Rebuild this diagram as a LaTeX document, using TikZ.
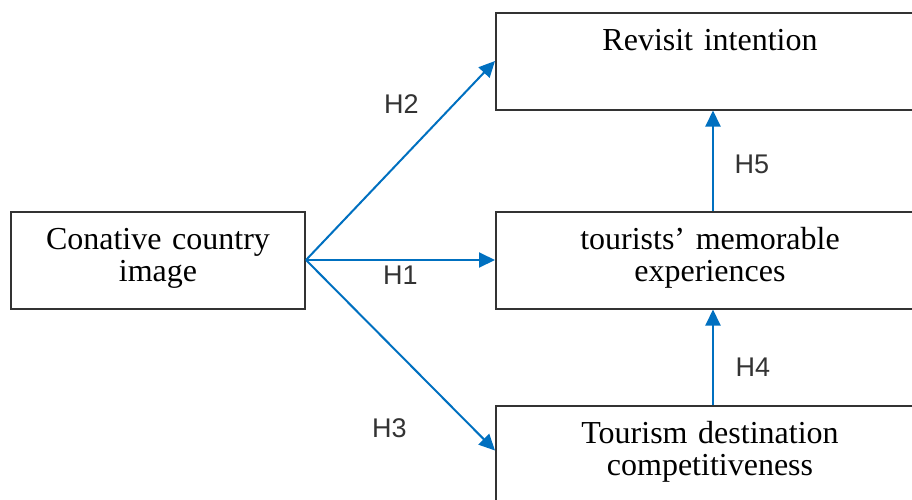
\documentclass[tikz,border=0pt]{standalone}
\usepackage{fontspec}
\setmainfont{Liberation Serif}
\newfontfamily\labelfont{Liberation Sans}
\usetikzlibrary{shapes,arrows.meta,positioning}
\definecolor{hypblue}{HTML}{0070C0}
\definecolor{boxgray}{HTML}{333333}

\begin{document}
\begin{tikzpicture}[
    box/.style={draw=boxgray, line width=1pt, rectangle, inner sep=0pt, align=center,
        text height=19pt, text depth=29.5pt, font=\fontsize{16}{16}\selectfont},
    hyp/.style={hypblue, line width=1pt, -{Triangle[length=8pt,width=7.5pt]}},
    lbl/.style={font=\labelfont\fontsize{13.5}{14}\selectfont, text=boxgray, inner sep=0pt}
  ]
       \useasboundingbox (0,0) rectangle (456pt,-249.5pt);

       %Defining nodes
       \node[box, text width=147pt] (conative) at (79pt,-130pt) {Conative country\\image};

       \node[box, text width=214pt, right=94.5pt of conative] (memorable) {tourists’ memorable\\experiences};

       \node[box, text width=214pt, above=50pt of memorable] (revisit) {Revisit intention};

       \node[box, text width=214pt, below=47.5pt of memorable] (tourism) {Tourism destination\\competitiveness};

       %Drawing Diagram
       \draw[hyp] (conative.east) -- node[lbl, xshift=0.5pt, yshift=28.25pt] {H2} (revisit.west);
       \draw[hyp] (conative.east) -- node[lbl, yshift=-7.5pt] {H1} (memorable.west);
       \draw[hyp] (conative.east) -- node[lbl, xshift=-5.5pt, yshift=-36.5pt] {H3} ([yshift=1.75pt]tourism.west);
       \draw[hyp] ([xshift=1.5pt]memorable.north) -- node[lbl, xshift=19.5pt, yshift=-2pt] {H5} ([xshift=1.5pt]revisit.south);
       \draw[hyp] ([xshift=1.5pt]tourism.north) -- node[lbl, xshift=20pt, yshift=-5pt] {H4} ([xshift=1.5pt]memorable.south);
\end{tikzpicture}
\end{document}
